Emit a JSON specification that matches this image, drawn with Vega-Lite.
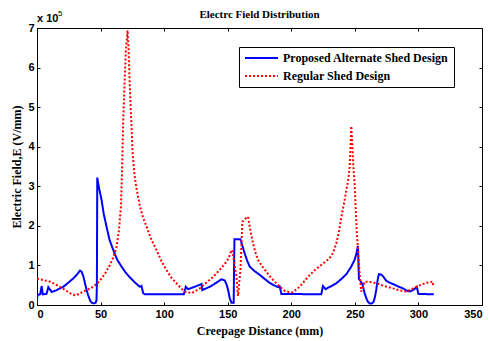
{
  "$schema": "https://vega.github.io/schema/vega-lite/v6.json",
  "width": 445,
  "height": 277,
  "autosize": {"type": "none"},
  "padding": {"left": 37, "top": 28, "right": 8, "bottom": 36},
  "background": "white",
  "title": {"text": "Electrc Field Distribution", "font": "Liberation Serif", "fontSize": 11, "fontWeight": "bold", "color": "black", "offset": -10, "anchor": "middle"},
  "config": {
    "view": {"stroke": "black", "strokeWidth": 1},
    "axis": {"grid": false, "domain": false, "tickColor": "black", "labelColor": "black", "titleColor": "black"},
    "legend": {"strokeColor": "black", "fillColor": "white"}
  },
  "datasets": {
    "curves": [
      {"series": "Proposed Alternate Shed Design", "x": 0, "y": 0.03},
      {"series": "Proposed Alternate Shed Design", "x": 0.2, "y": 0.25},
      {"series": "Proposed Alternate Shed Design", "x": 2.5, "y": 0.27},
      {"series": "Proposed Alternate Shed Design", "x": 3.7, "y": 0.48},
      {"series": "Proposed Alternate Shed Design", "x": 4.5, "y": 0.27},
      {"series": "Proposed Alternate Shed Design", "x": 7.5, "y": 0.28},
      {"series": "Proposed Alternate Shed Design", "x": 8.9, "y": 0.45},
      {"series": "Proposed Alternate Shed Design", "x": 11.5, "y": 0.33},
      {"series": "Proposed Alternate Shed Design", "x": 15, "y": 0.37},
      {"series": "Proposed Alternate Shed Design", "x": 20.7, "y": 0.46},
      {"series": "Proposed Alternate Shed Design", "x": 24.5, "y": 0.56},
      {"series": "Proposed Alternate Shed Design", "x": 28.5, "y": 0.67},
      {"series": "Proposed Alternate Shed Design", "x": 31.5, "y": 0.77},
      {"series": "Proposed Alternate Shed Design", "x": 33.8, "y": 0.87},
      {"series": "Proposed Alternate Shed Design", "x": 35.1, "y": 0.84},
      {"series": "Proposed Alternate Shed Design", "x": 36.4, "y": 0.73},
      {"series": "Proposed Alternate Shed Design", "x": 39, "y": 0.38},
      {"series": "Proposed Alternate Shed Design", "x": 40, "y": 0.27},
      {"series": "Proposed Alternate Shed Design", "x": 41.1, "y": 0.17},
      {"series": "Proposed Alternate Shed Design", "x": 42, "y": 0.1},
      {"series": "Proposed Alternate Shed Design", "x": 43, "y": 0.06},
      {"series": "Proposed Alternate Shed Design", "x": 44.5, "y": 0.04},
      {"series": "Proposed Alternate Shed Design", "x": 46.1, "y": 0.06},
      {"series": "Proposed Alternate Shed Design", "x": 46.8, "y": 0.12},
      {"series": "Proposed Alternate Shed Design", "x": 47.1, "y": 0.5},
      {"series": "Proposed Alternate Shed Design", "x": 47.4, "y": 3.22},
      {"series": "Proposed Alternate Shed Design", "x": 48.5, "y": 3.0},
      {"series": "Proposed Alternate Shed Design", "x": 50.8, "y": 2.65},
      {"series": "Proposed Alternate Shed Design", "x": 52.5, "y": 2.3},
      {"series": "Proposed Alternate Shed Design", "x": 54.7, "y": 1.98},
      {"series": "Proposed Alternate Shed Design", "x": 57, "y": 1.65},
      {"series": "Proposed Alternate Shed Design", "x": 60, "y": 1.39},
      {"series": "Proposed Alternate Shed Design", "x": 63, "y": 1.15},
      {"series": "Proposed Alternate Shed Design", "x": 66.5, "y": 0.97},
      {"series": "Proposed Alternate Shed Design", "x": 69.5, "y": 0.83},
      {"series": "Proposed Alternate Shed Design", "x": 73, "y": 0.7},
      {"series": "Proposed Alternate Shed Design", "x": 77, "y": 0.57},
      {"series": "Proposed Alternate Shed Design", "x": 80.9, "y": 0.46},
      {"series": "Proposed Alternate Shed Design", "x": 82.2, "y": 0.48},
      {"series": "Proposed Alternate Shed Design", "x": 83.5, "y": 0.3},
      {"series": "Proposed Alternate Shed Design", "x": 84.8, "y": 0.27},
      {"series": "Proposed Alternate Shed Design", "x": 115.5, "y": 0.27},
      {"series": "Proposed Alternate Shed Design", "x": 117, "y": 0.46},
      {"series": "Proposed Alternate Shed Design", "x": 118.8, "y": 0.4},
      {"series": "Proposed Alternate Shed Design", "x": 124, "y": 0.46},
      {"series": "Proposed Alternate Shed Design", "x": 129.4, "y": 0.53},
      {"series": "Proposed Alternate Shed Design", "x": 130, "y": 0.38},
      {"series": "Proposed Alternate Shed Design", "x": 135.9, "y": 0.46},
      {"series": "Proposed Alternate Shed Design", "x": 141, "y": 0.56},
      {"series": "Proposed Alternate Shed Design", "x": 145, "y": 0.65},
      {"series": "Proposed Alternate Shed Design", "x": 147.7, "y": 0.62},
      {"series": "Proposed Alternate Shed Design", "x": 149.3, "y": 0.5},
      {"series": "Proposed Alternate Shed Design", "x": 150.3, "y": 0.38},
      {"series": "Proposed Alternate Shed Design", "x": 151.6, "y": 0.17},
      {"series": "Proposed Alternate Shed Design", "x": 152.9, "y": 0.06},
      {"series": "Proposed Alternate Shed Design", "x": 154.7, "y": 0.06},
      {"series": "Proposed Alternate Shed Design", "x": 155, "y": 1.0},
      {"series": "Proposed Alternate Shed Design", "x": 155.3, "y": 1.66},
      {"series": "Proposed Alternate Shed Design", "x": 160, "y": 1.66},
      {"series": "Proposed Alternate Shed Design", "x": 161.5, "y": 1.5},
      {"series": "Proposed Alternate Shed Design", "x": 163.4, "y": 1.3},
      {"series": "Proposed Alternate Shed Design", "x": 165.3, "y": 1.12},
      {"series": "Proposed Alternate Shed Design", "x": 167.3, "y": 0.97},
      {"series": "Proposed Alternate Shed Design", "x": 171, "y": 0.86},
      {"series": "Proposed Alternate Shed Design", "x": 175.2, "y": 0.76},
      {"series": "Proposed Alternate Shed Design", "x": 179, "y": 0.66},
      {"series": "Proposed Alternate Shed Design", "x": 183, "y": 0.56},
      {"series": "Proposed Alternate Shed Design", "x": 186.3, "y": 0.5},
      {"series": "Proposed Alternate Shed Design", "x": 189.6, "y": 0.45},
      {"series": "Proposed Alternate Shed Design", "x": 190.9, "y": 0.47},
      {"series": "Proposed Alternate Shed Design", "x": 192.2, "y": 0.28},
      {"series": "Proposed Alternate Shed Design", "x": 223.6, "y": 0.27},
      {"series": "Proposed Alternate Shed Design", "x": 224.9, "y": 0.48},
      {"series": "Proposed Alternate Shed Design", "x": 227, "y": 0.4},
      {"series": "Proposed Alternate Shed Design", "x": 231, "y": 0.47},
      {"series": "Proposed Alternate Shed Design", "x": 235.4, "y": 0.55},
      {"series": "Proposed Alternate Shed Design", "x": 239.5, "y": 0.66},
      {"series": "Proposed Alternate Shed Design", "x": 243.3, "y": 0.78},
      {"series": "Proposed Alternate Shed Design", "x": 246.8, "y": 0.95},
      {"series": "Proposed Alternate Shed Design", "x": 249.8, "y": 1.14},
      {"series": "Proposed Alternate Shed Design", "x": 251.2, "y": 1.3},
      {"series": "Proposed Alternate Shed Design", "x": 252.4, "y": 1.49},
      {"series": "Proposed Alternate Shed Design", "x": 253.2, "y": 0.66},
      {"series": "Proposed Alternate Shed Design", "x": 254.5, "y": 0.6},
      {"series": "Proposed Alternate Shed Design", "x": 256, "y": 0.52},
      {"series": "Proposed Alternate Shed Design", "x": 257.5, "y": 0.32},
      {"series": "Proposed Alternate Shed Design", "x": 259, "y": 0.17},
      {"series": "Proposed Alternate Shed Design", "x": 260.3, "y": 0.08},
      {"series": "Proposed Alternate Shed Design", "x": 261.6, "y": 0.04},
      {"series": "Proposed Alternate Shed Design", "x": 263.3, "y": 0.04},
      {"series": "Proposed Alternate Shed Design", "x": 264.7, "y": 0.08},
      {"series": "Proposed Alternate Shed Design", "x": 265.8, "y": 0.2},
      {"series": "Proposed Alternate Shed Design", "x": 266.8, "y": 0.38},
      {"series": "Proposed Alternate Shed Design", "x": 268, "y": 0.65},
      {"series": "Proposed Alternate Shed Design", "x": 268.9, "y": 0.78},
      {"series": "Proposed Alternate Shed Design", "x": 270.5, "y": 0.77},
      {"series": "Proposed Alternate Shed Design", "x": 272.1, "y": 0.73},
      {"series": "Proposed Alternate Shed Design", "x": 274.7, "y": 0.61},
      {"series": "Proposed Alternate Shed Design", "x": 277, "y": 0.57},
      {"series": "Proposed Alternate Shed Design", "x": 279.9, "y": 0.53},
      {"series": "Proposed Alternate Shed Design", "x": 284, "y": 0.47},
      {"series": "Proposed Alternate Shed Design", "x": 287.8, "y": 0.42},
      {"series": "Proposed Alternate Shed Design", "x": 290.5, "y": 0.37},
      {"series": "Proposed Alternate Shed Design", "x": 293, "y": 0.34},
      {"series": "Proposed Alternate Shed Design", "x": 296, "y": 0.38},
      {"series": "Proposed Alternate Shed Design", "x": 298.7, "y": 0.46},
      {"series": "Proposed Alternate Shed Design", "x": 300, "y": 0.28},
      {"series": "Proposed Alternate Shed Design", "x": 312.1, "y": 0.27},
      {"series": "Regular Shed Design", "x": 0, "y": 0.67},
      {"series": "Regular Shed Design", "x": 5, "y": 0.63},
      {"series": "Regular Shed Design", "x": 10.2, "y": 0.59},
      {"series": "Regular Shed Design", "x": 14, "y": 0.53},
      {"series": "Regular Shed Design", "x": 18, "y": 0.46},
      {"series": "Regular Shed Design", "x": 22, "y": 0.38},
      {"series": "Regular Shed Design", "x": 25.9, "y": 0.3},
      {"series": "Regular Shed Design", "x": 29.9, "y": 0.24},
      {"series": "Regular Shed Design", "x": 33, "y": 0.28},
      {"series": "Regular Shed Design", "x": 36.4, "y": 0.34},
      {"series": "Regular Shed Design", "x": 40, "y": 0.39},
      {"series": "Regular Shed Design", "x": 44.2, "y": 0.46},
      {"series": "Regular Shed Design", "x": 47.5, "y": 0.55},
      {"series": "Regular Shed Design", "x": 50.8, "y": 0.67},
      {"series": "Regular Shed Design", "x": 54, "y": 0.82},
      {"series": "Regular Shed Design", "x": 57.3, "y": 1.01},
      {"series": "Regular Shed Design", "x": 60, "y": 1.2},
      {"series": "Regular Shed Design", "x": 62.6, "y": 1.47},
      {"series": "Regular Shed Design", "x": 64.5, "y": 1.9},
      {"series": "Regular Shed Design", "x": 66, "y": 2.48},
      {"series": "Regular Shed Design", "x": 67, "y": 3.5},
      {"series": "Regular Shed Design", "x": 67.8, "y": 4.67},
      {"series": "Regular Shed Design", "x": 69.8, "y": 6.4},
      {"series": "Regular Shed Design", "x": 71.2, "y": 6.94},
      {"series": "Regular Shed Design", "x": 72, "y": 6.5},
      {"series": "Regular Shed Design", "x": 73, "y": 5.51},
      {"series": "Regular Shed Design", "x": 75.2, "y": 3.83},
      {"series": "Regular Shed Design", "x": 76.5, "y": 3.35},
      {"series": "Regular Shed Design", "x": 78, "y": 2.99},
      {"series": "Regular Shed Design", "x": 80.9, "y": 2.5},
      {"series": "Regular Shed Design", "x": 83.5, "y": 2.2},
      {"series": "Regular Shed Design", "x": 86.2, "y": 1.98},
      {"series": "Regular Shed Design", "x": 90, "y": 1.65},
      {"series": "Regular Shed Design", "x": 94, "y": 1.39},
      {"series": "Regular Shed Design", "x": 98, "y": 1.1},
      {"series": "Regular Shed Design", "x": 101.9, "y": 0.88},
      {"series": "Regular Shed Design", "x": 105.5, "y": 0.7},
      {"series": "Regular Shed Design", "x": 109.7, "y": 0.55},
      {"series": "Regular Shed Design", "x": 113, "y": 0.43},
      {"series": "Regular Shed Design", "x": 116.3, "y": 0.34},
      {"series": "Regular Shed Design", "x": 121.5, "y": 0.3},
      {"series": "Regular Shed Design", "x": 125, "y": 0.36},
      {"series": "Regular Shed Design", "x": 128, "y": 0.42},
      {"series": "Regular Shed Design", "x": 133, "y": 0.56},
      {"series": "Regular Shed Design", "x": 138.5, "y": 0.71},
      {"series": "Regular Shed Design", "x": 144, "y": 0.9},
      {"series": "Regular Shed Design", "x": 149, "y": 1.09},
      {"series": "Regular Shed Design", "x": 151, "y": 1.2},
      {"series": "Regular Shed Design", "x": 152.9, "y": 1.39},
      {"series": "Regular Shed Design", "x": 153.7, "y": 1.35},
      {"series": "Regular Shed Design", "x": 156.9, "y": 0.71},
      {"series": "Regular Shed Design", "x": 158.1, "y": 0.23},
      {"series": "Regular Shed Design", "x": 160, "y": 0.88},
      {"series": "Regular Shed Design", "x": 161.5, "y": 2.1},
      {"series": "Regular Shed Design", "x": 164.2, "y": 2.19},
      {"series": "Regular Shed Design", "x": 166, "y": 2.23},
      {"series": "Regular Shed Design", "x": 168, "y": 1.85},
      {"series": "Regular Shed Design", "x": 169.9, "y": 1.56},
      {"series": "Regular Shed Design", "x": 171.8, "y": 1.33},
      {"series": "Regular Shed Design", "x": 173.8, "y": 1.14},
      {"series": "Regular Shed Design", "x": 177, "y": 0.98},
      {"series": "Regular Shed Design", "x": 180.4, "y": 0.84},
      {"series": "Regular Shed Design", "x": 183.5, "y": 0.71},
      {"series": "Regular Shed Design", "x": 186.9, "y": 0.59},
      {"series": "Regular Shed Design", "x": 190.8, "y": 0.47},
      {"series": "Regular Shed Design", "x": 194.8, "y": 0.36},
      {"series": "Regular Shed Design", "x": 200, "y": 0.31},
      {"series": "Regular Shed Design", "x": 203, "y": 0.37},
      {"series": "Regular Shed Design", "x": 206.6, "y": 0.46},
      {"series": "Regular Shed Design", "x": 210.5, "y": 0.61},
      {"series": "Regular Shed Design", "x": 214.5, "y": 0.76},
      {"series": "Regular Shed Design", "x": 218.5, "y": 0.88},
      {"series": "Regular Shed Design", "x": 222.3, "y": 0.98},
      {"series": "Regular Shed Design", "x": 226.3, "y": 1.08},
      {"series": "Regular Shed Design", "x": 230.2, "y": 1.18},
      {"series": "Regular Shed Design", "x": 233, "y": 1.33},
      {"series": "Regular Shed Design", "x": 235.4, "y": 1.56},
      {"series": "Regular Shed Design", "x": 237.5, "y": 1.85},
      {"series": "Regular Shed Design", "x": 239.4, "y": 2.23},
      {"series": "Regular Shed Design", "x": 241.4, "y": 2.55},
      {"series": "Regular Shed Design", "x": 243.3, "y": 2.9},
      {"series": "Regular Shed Design", "x": 245, "y": 3.2},
      {"series": "Regular Shed Design", "x": 245.9, "y": 3.49},
      {"series": "Regular Shed Design", "x": 246.6, "y": 4.0},
      {"series": "Regular Shed Design", "x": 247.2, "y": 4.52},
      {"series": "Regular Shed Design", "x": 248, "y": 4.1},
      {"series": "Regular Shed Design", "x": 248.8, "y": 3.5},
      {"series": "Regular Shed Design", "x": 249.8, "y": 3.07},
      {"series": "Regular Shed Design", "x": 250.7, "y": 2.4},
      {"series": "Regular Shed Design", "x": 251.6, "y": 1.81},
      {"series": "Regular Shed Design", "x": 253.7, "y": 0.8},
      {"series": "Regular Shed Design", "x": 255, "y": 0.34},
      {"series": "Regular Shed Design", "x": 257.7, "y": 0.59},
      {"series": "Regular Shed Design", "x": 262, "y": 0.58},
      {"series": "Regular Shed Design", "x": 266.8, "y": 0.55},
      {"series": "Regular Shed Design", "x": 273, "y": 0.48},
      {"series": "Regular Shed Design", "x": 279.9, "y": 0.42},
      {"series": "Regular Shed Design", "x": 285, "y": 0.37},
      {"series": "Regular Shed Design", "x": 290.4, "y": 0.34},
      {"series": "Regular Shed Design", "x": 294, "y": 0.39},
      {"series": "Regular Shed Design", "x": 298.3, "y": 0.46},
      {"series": "Regular Shed Design", "x": 302, "y": 0.51},
      {"series": "Regular Shed Design", "x": 306.1, "y": 0.56},
      {"series": "Regular Shed Design", "x": 311.3, "y": 0.59},
      {"series": "Regular Shed Design", "x": 311.5, "y": 0.46}
    ],
    "note": [
      {"x": 0, "y": 7}
    ]
  },
  "resolve": {"axis": {"x": "independent", "y": "independent"}},
  "layer": [
    {
      "data": {"name": "curves"},
      "mark": {"type": "line", "strokeWidth": 2, "clip": true},
      "encoding": {
        "x": {"field": "x", "type": "quantitative", "scale": {"domain": [0, 350], "nice": false},
          "axis": {"orient": "bottom", "title": "Creepage Distance (mm)", "values": [0, 50, 100, 150, 200, 250, 300, 350],
            "tickSize": -3, "labelPadding": 6, "labelFont": "Liberation Sans", "labelFontSize": 11, "labelFontWeight": "bold",
            "titleFont": "Liberation Serif", "titleFontSize": 12, "titleFontWeight": "bold", "titlePadding": 6}},
        "y": {"field": "y", "type": "quantitative", "scale": {"domain": [0, 7], "nice": false},
          "axis": {"orient": "left", "title": "Electric Field,E (V/mm)", "values": [0, 1, 2, 3, 4, 5, 6, 7],
            "tickSize": -3, "labelPadding": 6, "labelFont": "Liberation Sans", "labelFontSize": 11, "labelFontWeight": "bold",
            "titleFont": "Liberation Serif", "titleFontSize": 12, "titleFontWeight": "bold", "titlePadding": 4}},
        "color": {"field": "series", "type": "nominal",
          "scale": {"domain": ["Proposed Alternate Shed Design", "Regular Shed Design"], "range": ["#0000ff", "#ff0000"]},
          "legend": {"title": null, "orient": "none", "legendX": 202, "legendY": 19,
            "strokeColor": "black", "fillColor": "white", "padding": 5, "symbolType": "M-1,0H5.6", "symbolSize": 100,
            "symbolStrokeWidth": 2, "labelFont": "Liberation Serif", "labelFontSize": 12, "labelFontWeight": "bold",
            "labelColor": "black", "labelLimit": 400, "rowPadding": 6, "labelOffset": 27}},
        "strokeDash": {"field": "series", "type": "nominal",
          "scale": {"domain": ["Proposed Alternate Shed Design", "Regular Shed Design"], "range": [[1, 0], [2, 2]]},
          "legend": null}
      }
    },
    {
      "data": {"name": "curves"},
      "mark": {"type": "line", "opacity": 0},
      "encoding": {
        "x": {"field": "x", "type": "quantitative", "scale": {"domain": [0, 350], "nice": false},
          "axis": {"orient": "top", "title": null, "labels": false, "values": [0, 50, 100, 150, 200, 250, 300, 350], "tickSize": -3}},
        "y": {"field": "y", "type": "quantitative", "scale": {"domain": [0, 7], "nice": false},
          "axis": {"orient": "right", "title": null, "labels": false, "values": [0, 1, 2, 3, 4, 5, 6, 7], "tickSize": -3}}
      }
    },
    {
      "data": {"name": "note"},
      "mark": {"type": "text", "text": "x 10", "align": "left", "baseline": "bottom", "dx": 0, "dy": -4, "font": "Liberation Sans", "fontSize": 11, "fontWeight": "bold", "color": "black"},
      "encoding": {
        "x": {"field": "x", "type": "quantitative", "axis": null},
        "y": {"field": "y", "type": "quantitative", "axis": null}
      }
    },
    {
      "data": {"name": "note"},
      "mark": {"type": "text", "text": "5", "align": "left", "baseline": "bottom", "dx": 21, "dy": -10, "font": "Liberation Sans", "fontSize": 8, "fontWeight": "normal", "color": "black"},
      "encoding": {
        "x": {"field": "x", "type": "quantitative", "axis": null},
        "y": {"field": "y", "type": "quantitative", "axis": null}
      }
    }
  ]
}
